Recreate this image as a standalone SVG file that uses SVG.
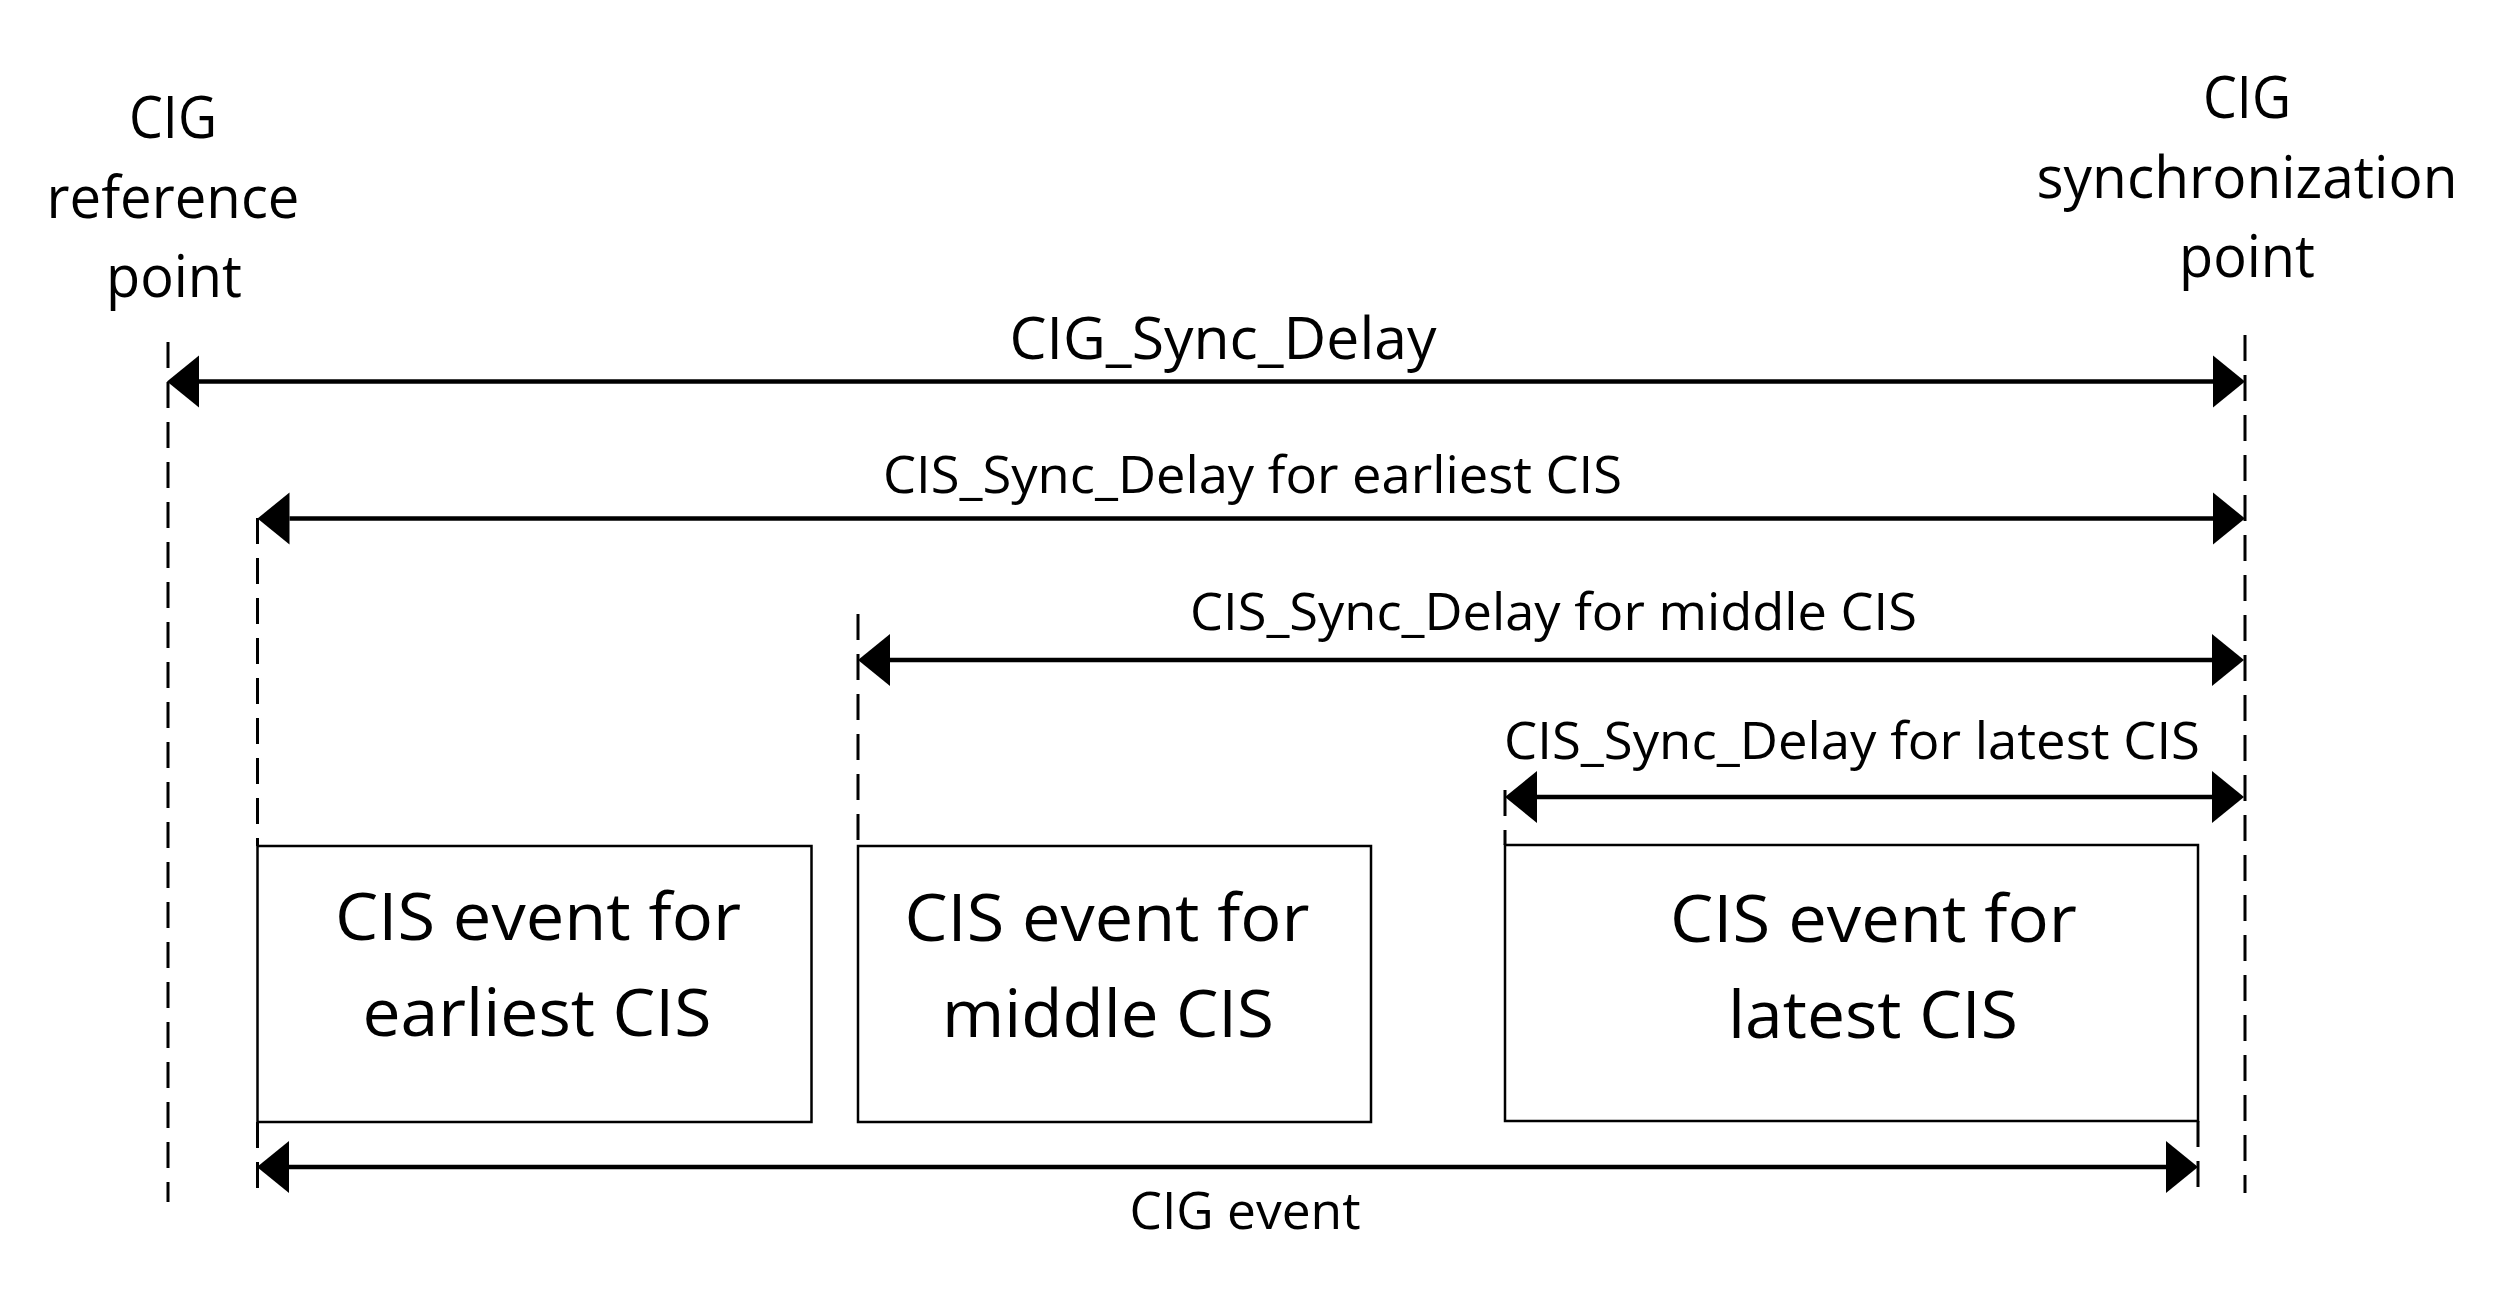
<svg xmlns="http://www.w3.org/2000/svg" width="2500" height="1310" viewBox="0 0 2500 1310">
  <style>
    text { font-family: "Open Sans", "Noto Sans", "Liberation Sans", sans-serif; fill: #000; text-anchor: middle; }
    .lbl { font-size: 59px; }
    .dly { font-size: 52px; }
    .box { font-size: 66px; }
    .ev { fill: #fff; stroke: #000; stroke-width: 2.5; }
    .arr { stroke: #000; stroke-width: 4.7; fill: none; marker-start: url(#ah); marker-end: url(#ah); }
    .dash { stroke: #000; stroke-width: 3; fill: none; stroke-dasharray: 26 14; }
  </style>
  <defs>
    <marker id="ah" markerUnits="userSpaceOnUse" markerWidth="34" markerHeight="54" refX="0" refY="26" orient="auto-start-reverse" overflow="visible">
      <path d="M0,0 L32,26 L0,52 Z" fill="#000"/>
    </marker>
  </defs>
  <rect width="2500" height="1310" fill="#fff"/>

  <g id="ref-point-label">
    <text class="lbl" x="173" y="138" textLength="88" lengthAdjust="spacingAndGlyphs">CIG</text>
    <text class="lbl" x="173" y="218" textLength="253" lengthAdjust="spacingAndGlyphs">reference</text>
    <text class="lbl" x="174" y="297" textLength="136" lengthAdjust="spacingAndGlyphs">point</text>
  </g>
  <g id="sync-point-label">
    <text class="lbl" x="2247" y="118" textLength="88" lengthAdjust="spacingAndGlyphs">CIG</text>
    <text class="lbl" x="2247" y="198" textLength="421" lengthAdjust="spacingAndGlyphs">synchronization</text>
    <text class="lbl" x="2247" y="277" textLength="136" lengthAdjust="spacingAndGlyphs">point</text>
  </g>

  <g id="connectors">
    <line class="dash" x1="168" y1="342" x2="168" y2="1202"/>
    <line class="dash" x1="2245" y1="335" x2="2245" y2="1193"/>
    <line class="dash" x1="257.5" y1="518" x2="257.5" y2="846"/>
    <line class="dash" x1="257.5" y1="1122" x2="257.5" y2="1202"/>
    <line class="dash" x1="858" y1="614" x2="858" y2="846"/>
    <line class="dash" x1="1505" y1="790" x2="1505" y2="845"/>
    <line class="dash" x1="2198" y1="1121" x2="2198" y2="1189" stroke-dasharray="30 5"/>

    <line class="arr" x1="199" y1="381.5" x2="2213" y2="381.5"/>
    <line class="arr" x1="289.5" y1="518.5" x2="2213" y2="518.5"/>
    <line class="arr" x1="890" y1="660" x2="2212" y2="660"/>
    <line class="arr" x1="1537" y1="797" x2="2212" y2="797"/>
    <line class="arr" x1="289" y1="1167" x2="2166" y2="1167"/>
  </g>

  <g id="cig-sync-delay">
    <text class="lbl" x="1223" y="359" textLength="427" lengthAdjust="spacingAndGlyphs">CIG_Sync_Delay</text>
  </g>
  <g id="cis-sync-delay-earliest">
    <text class="dly" x="1252.5" y="493" textLength="739" lengthAdjust="spacingAndGlyphs">CIS_Sync_Delay for earliest CIS</text>
  </g>
  <g id="cis-sync-delay-middle">
    <text class="dly" x="1553.5" y="630" textLength="727" lengthAdjust="spacingAndGlyphs">CIS_Sync_Delay for middle CIS</text>
  </g>
  <g id="cis-sync-delay-latest">
    <text class="dly" x="1852" y="759" textLength="696" lengthAdjust="spacingAndGlyphs">CIS_Sync_Delay for latest CIS</text>
  </g>

  <g id="cis-event-earliest">
    <rect class="ev" x="257.5" y="846" width="554" height="276"/>
    <text class="box" x="538" y="940" textLength="406" lengthAdjust="spacingAndGlyphs">CIS event for</text>
    <text class="box" x="537" y="1036" textLength="349" lengthAdjust="spacingAndGlyphs">earliest CIS</text>
  </g>
  <g id="cis-event-middle">
    <rect class="ev" x="858" y="846" width="513" height="276"/>
    <text class="box" x="1107" y="941" textLength="405" lengthAdjust="spacingAndGlyphs">CIS event for</text>
    <text class="box" x="1108" y="1037" textLength="332" lengthAdjust="spacingAndGlyphs">middle CIS</text>
  </g>
  <g id="cis-event-latest">
    <rect class="ev" x="1505" y="845" width="693" height="276"/>
    <text class="box" x="1873.5" y="942" textLength="407" lengthAdjust="spacingAndGlyphs">CIS event for</text>
    <text class="box" x="1873" y="1038" textLength="290" lengthAdjust="spacingAndGlyphs">latest CIS</text>
  </g>

  <g id="cig-event">
    <text class="dly" x="1245" y="1229" textLength="231" lengthAdjust="spacingAndGlyphs">CIG event</text>
  </g>
</svg>
